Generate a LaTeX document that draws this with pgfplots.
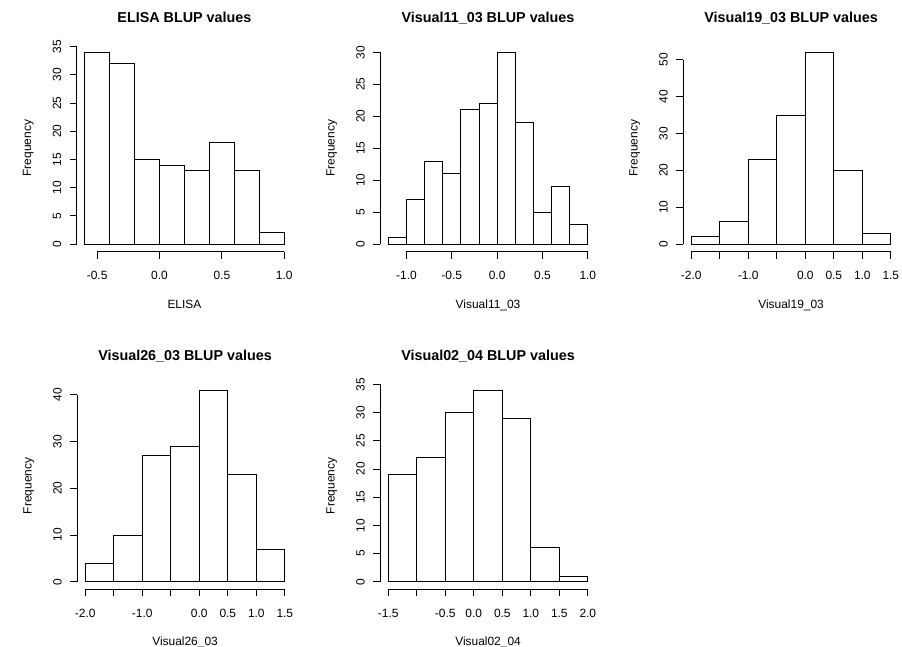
\documentclass[border=0pt]{standalone}
\usepackage{fontspec}
\setmainfont{Liberation Sans}
\usepackage{pgfplots}
\pgfplotsset{compat=1.18}

% R base graphics look: axis lines only between first and last tick
\tikzset{axisline/.style={black, line width=0.9bp}}
\pgfplotsset{
  rhist/.style={
    scale only axis, width=215.5bp, height=207bp,
    anchor=south west,
    axis lines*=left, axis line style={draw=none},
    tick align=outside, major tick length=7bp,
    tick style={black, line width=0.9bp},
    clip=false,
    ticklabel style={font=\fontsize{12}{14}\selectfont},
    /pgf/number format/assume math mode=true,
    yticklabel style={rotate=90, anchor=south},
    xticklabel shift=9bp, yticklabel shift=5bp,
    every axis title/.style={font=\bfseries\fontsize{14.4}{16}\selectfont,
      at={(axis description cs:0.5,1.106)}, anchor=base},
    ylabel style={font=\fontsize{12}{14}\selectfont,
      at={(axis description cs:-0.225,0.5)}, anchor=center},
    xlabel style={font=\fontsize{12}{14}\selectfont,
      at={(axis description cs:0.5,-0.273)}, anchor=base},
    ylabel={Frequency},
  },
  rbar/.style={ybar interval, draw=black, fill=white, line width=0.9bp},
}

\begin{document}
\begin{tikzpicture}
\useasboundingbox (0,0) rectangle (902bp,647bp);

% ELISA
\begin{axis}[rhist, at={(76.7bp,395.3bp)},
  title={ELISA BLUP values}, xlabel={ELISA},
  xmin=-0.664, xmax=1.064, ymin=-1.36, ymax=35.36,
  xtick={-0.5,0,0.5,1}, xticklabels={-0.5,0.0,0.5,1.0},
  ytick={0,5,10,15,20,25,30,35}]
\addplot[rbar] coordinates {(-0.6,34) (-0.4,32) (-0.2,15) (0,14) (0.2,13) (0.4,18) (0.6,13) (0.8,2) (1.0,0)};
\draw[axisline] (axis cs:-0.5,-1.36) -- (axis cs:1,-1.36);
\draw[axisline] (axis cs:-0.664,0) -- (axis cs:-0.664,35);
\end{axis}

% Visual11_03
\begin{axis}[rhist, at={(380.3bp,395.3bp)},
  title={Visual11\_03 BLUP values}, xlabel={Visual11\_03},
  xmin=-1.288, xmax=1.088, ymin=-1.2, ymax=31.2,
  xtick={-1,-0.5,0,0.5,1}, xticklabels={-1.0,-0.5,0.0,0.5,1.0},
  ytick={0,5,10,15,20,25,30}]
\addplot[rbar] coordinates {(-1.2,1) (-1.0,7) (-0.8,13) (-0.6,11) (-0.4,21) (-0.2,22) (0,30) (0.2,19) (0.4,5) (0.6,9) (0.8,3) (1.0,0)};
\draw[axisline] (axis cs:-1,-1.2) -- (axis cs:1,-1.2);
\draw[axisline] (axis cs:-1.288,0) -- (axis cs:-1.288,30);
\end{axis}

% Visual19_03
\begin{axis}[rhist, at={(683.3bp,395.3bp)},
  title={Visual19\_03 BLUP values}, xlabel={Visual19\_03},
  xmin=-2.14, xmax=1.64, ymin=-2.08, ymax=54.08,
  xtick={-2,-1.5,-1,-0.5,0,0.5,1,1.5},
  xticklabels={-2.0,{},-1.0,{},0.0,0.5,1.0,1.5},
  ytick={0,10,20,30,40,50}]
\addplot[rbar] coordinates {(-2,2) (-1.5,6) (-1,23) (-0.5,35) (0,52) (0.5,20) (1,3) (1.5,0)};
\draw[axisline] (axis cs:-2,-2.08) -- (axis cs:1.5,-2.08);
\draw[axisline] (axis cs:-2.14,0) -- (axis cs:-2.14,50);
\end{axis}

% Visual26_03
\begin{axis}[rhist, at={(77.3bp,57.6bp)},
  title={Visual26\_03 BLUP values}, xlabel={Visual26\_03},
  xmin=-2.14, xmax=1.64, ymin=-1.64, ymax=42.64,
  xtick={-2,-1.5,-1,-0.5,0,0.5,1,1.5},
  xticklabels={-2.0,{},-1.0,{},0.0,0.5,1.0,1.5},
  ytick={0,10,20,30,40}]
\addplot[rbar] coordinates {(-2,4) (-1.5,10) (-1,27) (-0.5,29) (0,41) (0.5,23) (1,7) (1.5,0)};
\draw[axisline] (axis cs:-2,-1.64) -- (axis cs:1.5,-1.64);
\draw[axisline] (axis cs:-2.14,0) -- (axis cs:-2.14,40);
\end{axis}

% Visual02_04
\begin{axis}[rhist, at={(380.3bp,57.6bp)},
  title={Visual02\_04 BLUP values}, xlabel={Visual02\_04},
  xmin=-1.64, xmax=2.14, ymin=-1.36, ymax=35.36,
  xtick={-1.5,-1,-0.5,0,0.5,1,1.5,2},
  xticklabels={-1.5,{},-0.5,0.0,0.5,1.0,1.5,2.0},
  ytick={0,5,10,15,20,25,30,35}]
\addplot[rbar] coordinates {(-1.5,19) (-1,22) (-0.5,30) (0,34) (0.5,29) (1,6) (1.5,1) (2,0)};
\draw[axisline] (axis cs:-1.5,-1.36) -- (axis cs:2,-1.36);
\draw[axisline] (axis cs:-1.64,0) -- (axis cs:-1.64,35);
\end{axis}

\end{tikzpicture}
\end{document}
